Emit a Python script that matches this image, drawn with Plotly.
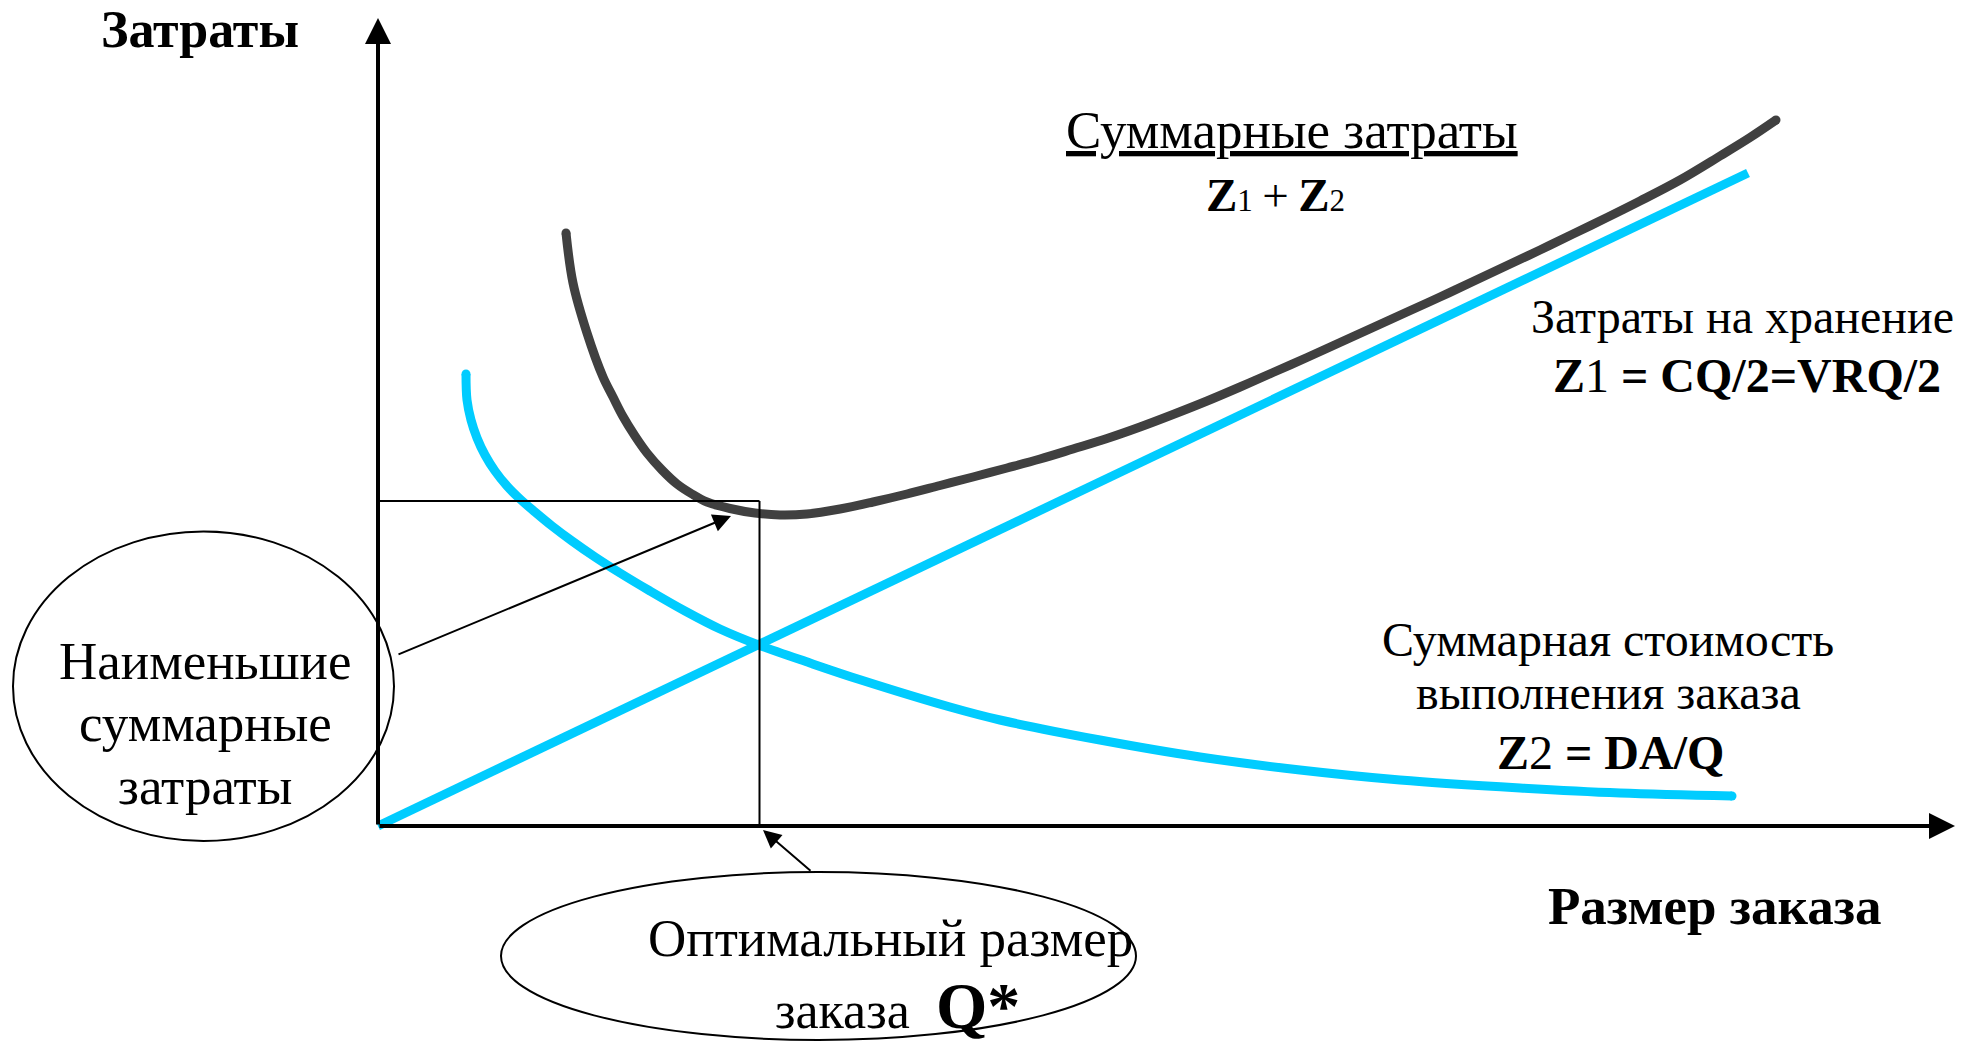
import plotly.graph_objects as go

# ---- data (abstract units: order size Q, cost Z) ----
q_total = [18.8, 19.5, 20.9, 22.5, 23.5, 24.5, 25.7, 26.9, 28.4, 29.9, 31.4, 32.9, 35.2, 37.7, 40.2, 42.9,
           46.2, 49.5, 52.9, 56.2, 59.5, 62.9, 66.2, 69.5, 72.9, 76.2, 79.5, 82.9, 86.2, 89.5, 92.9, 96.2,
           99.5, 102.9, 106.2, 109.5, 112.9, 116.2, 119.5, 122.9, 126.2, 130.2, 134.2, 137.2, 139.8]
z_total = [59.3, 54.3, 49.3, 44.9, 42.9, 40.95, 39.0, 37.3, 35.6, 34.2, 33.2, 32.4, 31.75, 31.3, 31.1, 31.2,
           31.7, 32.4, 33.2, 34.05, 34.9, 35.8, 36.7, 37.7, 38.75, 39.9, 41.15, 42.5, 43.9, 45.35, 46.85, 48.35,
           49.85, 51.4, 52.9, 54.45, 56.05, 57.6, 59.2, 60.85, 62.5, 64.6, 67.0, 68.85, 70.6]

q_order = [8.8, 8.9, 9.3, 9.9, 10.7, 11.7, 12.9, 14.2, 15.7, 17.4, 19.4, 21.7, 24.2, 27.2, 30.7, 34.2, 38.2,
           43.2, 48.3, 57.2, 62.2, 72.2, 82.2, 92.2, 102.2, 114.2, 124.2, 135.4]
z_order = [45.2, 42.6, 40.6, 38.8, 37.1, 35.5, 34.0, 32.7, 31.4, 30.0, 28.5, 26.9, 25.3, 23.5, 21.5, 19.7, 18.05,
           16.3, 14.6, 11.9, 10.6, 8.6, 6.9, 5.6, 4.6, 3.8, 3.3, 3.0]

q_hold = [0.0, 137.0]
z_hold = [0.0, 65.3]

q_opt = 38.15
z_min = 32.5
x_axis_end = 157.7
y_axis_end = 80.8

FONT = "Liberation Serif"
BLUE = "#00CCFF"
DARK = "#404040"

fig = go.Figure()

fig.add_trace(go.Scatter(x=q_hold, y=z_hold, mode="lines",
                         line=dict(color=BLUE, width=9), hoverinfo="skip"))
fig.add_trace(go.Scatter(x=q_order, y=z_order, mode="lines",
                         line=dict(color=BLUE, width=9, shape="spline", smoothing=1.0), hoverinfo="skip"))
fig.add_trace(go.Scatter(x=[q_order[0], q_order[-1]], y=[z_order[0], z_order[-1]], mode="markers",
                         marker=dict(color=BLUE, size=9, line=dict(width=0)), hoverinfo="skip"))
fig.add_trace(go.Scatter(x=q_total, y=z_total, mode="lines",
                         line=dict(color=DARK, width=9, shape="spline", smoothing=1.0), hoverinfo="skip"))
fig.add_trace(go.Scatter(x=[q_total[0], q_total[-1]], y=[z_total[0], z_total[-1]], mode="markers",
                         marker=dict(color=DARK, size=9, line=dict(width=0)), hoverinfo="skip"))

shapes = [
    dict(type="line", x0=0, y0=z_min, x1=q_opt, y1=z_min, line=dict(color="black", width=2)),
    dict(type="line", x0=q_opt, y0=z_min, x1=q_opt, y1=0, line=dict(color="black", width=2)),
    dict(type="circle", x0=-36.5, y0=-1.5, x1=1.6, y1=29.45, line=dict(color="black", width=2)),
    dict(type="circle", x0=12.3, y0=-21.4, x1=75.8, y1=-4.6, line=dict(color="black", width=2)),
]

ann = []
ann.append(dict(x=0, y=y_axis_end, ax=0, ay=0, xref="x", yref="y", axref="x", ayref="y",
                text="", showarrow=True, arrowhead=2, arrowsize=1.3, arrowwidth=4, arrowcolor="black", standoff=0))
ann.append(dict(x=x_axis_end, y=0, ax=0, ay=0, xref="x", yref="y", axref="x", ayref="y",
                text="", showarrow=True, arrowhead=2, arrowsize=1.3, arrowwidth=4, arrowcolor="black", standoff=0))
ann.append(dict(x=35.3, y=31.0, ax=1.9, ay=17.1, xref="x", yref="y", axref="x", ayref="y",
                text="", showarrow=True, arrowhead=2, arrowsize=1.8, arrowwidth=2, arrowcolor="black", standoff=0))
ann.append(dict(x=38.5, y=-0.4, ax=43.4, ay=-4.6, xref="x", yref="y", axref="x", ayref="y",
                text="", showarrow=True, arrowhead=2, arrowsize=1.8, arrowwidth=2, arrowcolor="black", standoff=0))


def txt(x, y, s, size=48, bold=False):
    if bold:
        s = "<b>" + s + "</b>"
    ann.append(dict(x=x, y=y, xref="x", yref="y", text=s, showarrow=False,
                    xanchor="center", yanchor="middle",
                    font=dict(family=FONT, size=size, color="black")))


txt(-17.8, 79.7, "Затраты", size=52, bold=True)
txt(91.4, 69.6, "<u>Суммарные затраты</u>", size=53)
txt(89.7, 63.1, "<b>Z</b><span style='font-size:31px'>1</span>\u2009+\u2009<b>Z</b><span style='font-size:31px'>2</span>", size=47)
txt(136.4, 51.0, "Затраты на хранение", size=48)
txt(136.9, 45.1, "<b>Z</b>1<b> = CQ/2=VRQ/2</b>", size=48)
txt(123.0, 18.7, "Суммарная стоимость", size=48)
txt(123.0, 13.4, "выполнения заказа", size=48)
txt(123.2, 7.4, "<b>Z</b>2<b> = DA/Q</b>", size=48)
txt(133.7, -8.0, "Размер заказа", size=53, bold=True)
txt(-17.3, 16.5, "Наименьшие", size=53)
txt(-17.3, 10.35, "суммарные", size=53)
txt(-17.3, 4.05, "затраты", size=53)
txt(51.2, -11.2, "Оптимальный размер", size=53)
txt(46.4, -18.4, "заказа", size=52)
txt(60.0, -17.9, "Q*", size=66, bold=True)

fig.update_layout(
    width=1975, height=1041,
    margin=dict(l=0, r=0, t=0, b=0),
    paper_bgcolor="white", plot_bgcolor="white",
    showlegend=False,
    shapes=shapes, annotations=ann,
    xaxis=dict(range=[-37.8, 159.7], visible=False, fixedrange=True),
    yaxis=dict(range=[-21.5, 82.6], visible=False, fixedrange=True),
)

fig.write_html("out.html", config={"displayModeBar": False},
               post_script="document.body.style.margin='0';document.body.style.overflow='hidden';")
